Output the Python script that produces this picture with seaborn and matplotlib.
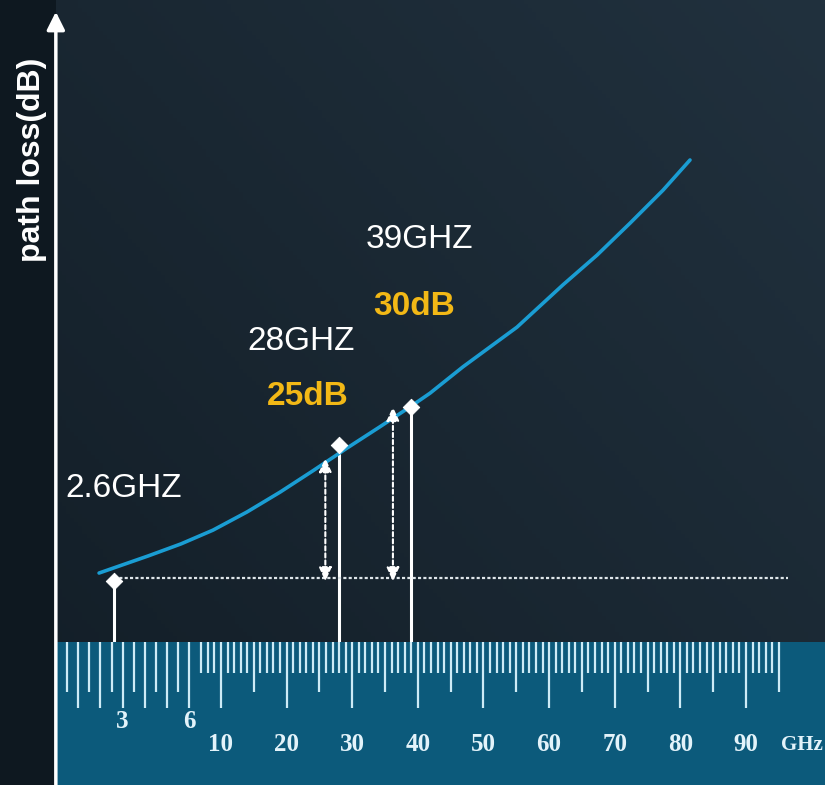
import numpy as np
import pandas as pd
import matplotlib
matplotlib.use("Agg")
import matplotlib.pyplot as plt
from matplotlib.patches import Rectangle
import seaborn as sns

# ---------------- data ----------------
curve_ghz = [1.94, 4.14, 5.62, 8.80, 13.96, 18.99, 24.02, 29.05, 34.23, 38.80,
             41.85, 46.88, 55.10, 62.11, 67.30, 72.32, 77.35, 81.47]
curve_loss_db = [60.9, 64.0, 66.2, 68.7, 72.0, 75.6, 79.5, 83.5, 87.5, 91.1,
                 93.6, 98.4, 105.6, 113.3, 118.7, 124.5, 130.5, 136.0]

band_ghz = [2.6, 28, 39]
band_loss_db = [59.4, 84.2, 91.1]
band_labels = ["2.6GHZ", "28GHZ", "39GHZ"]

gap_labels = ["25dB", "30dB"]
gap_ghz = [25.9, 36.2]
gap_top_db = [81.8, 91.1]
baseline_db = 60.0
baseline_end_ghz = 96.4

ruler_fine_ticks = list(np.arange(0.5, 6.01, 0.5))
ruler_unit_ticks = list(range(7, 96))
ruler_low_labels = [3, 6]
ruler_high_labels = [10, 20, 30, 40, 50, 60, 70, 80, 90]
unit_label = "GHz"
y_label = "path loss(dB)"

# ---------------- styling ----------------
sns.set_theme(style="dark")
plt.rcParams["font.family"] = ["Liberation Sans", "DejaVu Sans"]

W, H = 825, 785
fig = plt.figure(figsize=(W / 100, H / 100), dpi=100)

# background gradient
bg = fig.add_axes([0, 0, 1, 1], zorder=0)
gx, gy = np.meshgrid(np.linspace(0, 1, 200), np.linspace(1, 0, 200))
t = np.clip(0.55 * gx + 0.45 * gy, 0, 1)[..., None]
c_dark = np.array([18, 29, 38]) / 255
c_light = np.array([33, 49, 62]) / 255
bg.imshow(c_dark + (c_light - c_dark) * t, extent=(0, 1, 0, 1), aspect="auto", origin="upper")
bg.set_axis_off()

ax = fig.add_axes([0, 0, 1, 1], zorder=1)
ax.patch.set_alpha(0)

# piecewise frequency scale (ruler is stretched at low GHz)
G = np.array([-20, 0.5, 6, 7, 10, 90, 200])
P = np.array([67 - 20.5 * 22.3, 67, 189.5, 201, 221, 746, 746 + 110 * 6.5625])
ax.set_xscale("function", functions=(lambda v: np.interp(v, G, P),
                                     lambda p: np.interp(p, P, G)))
ax.set_xlim(-2.504, 102.04)
ax.set_ylim(22.36, 165.09)
ax.set_axis_off()

xform = ax.get_xaxis_transform()
ruler_top = 0.1822

# dark strip left of the axis
ax.add_patch(Rectangle((-2.504, 0), 2.504, 1, transform=xform, color="#0e1820", zorder=0.5, lw=0))

# ruler band
ax.add_patch(Rectangle((0, 0), 102.04, ruler_top, transform=xform, color="#0c5a7b", zorder=2, lw=0))
tick_col = "#cdebf6"
for v in ruler_fine_ticks:
    end = 0.0981 if float(v).is_integer() else 0.1185
    ax.vlines(v, end, ruler_top, transform=xform, color=tick_col, lw=1.6, zorder=3)
for v in ruler_unit_ticks:
    end = 0.0981 if v % 10 == 0 else (0.1185 if v % 5 == 0 else 0.1427)
    ax.vlines(v, end, ruler_top, transform=xform, color=tick_col, lw=1.6, zorder=3)

serif = ["Liberation Serif", "DejaVu Serif"]
for v in ruler_low_labels:
    ax.text(v, 0.0803, str(v), transform=xform, ha="center", va="center",
            color="#e3f3fa", fontsize=18, fontweight="bold", family=serif, zorder=4)
for v in ruler_high_labels:
    ax.text(v, 0.0510, str(v), transform=xform, ha="center", va="center",
            color="#e3f3fa", fontsize=18, fontweight="bold", family=serif, zorder=4)
ax.text(101.7, 0.0510, unit_label, transform=xform, ha="right", va="center",
        color="#e3f3fa", fontsize=15, fontweight="bold", family=serif, zorder=4)

# vertical axis with arrow
ax.annotate("", xy=(0, 0.985), xycoords=xform, xytext=(0, 0), textcoords=xform,
            arrowprops=dict(arrowstyle="-|>,head_length=0.9,head_width=0.45",
                            color="white", lw=2.5, shrinkA=0, shrinkB=0), zorder=5)
ax.text(0.039, 0.796, y_label, transform=ax.transAxes, rotation=90, ha="center", va="center",
        color="white", fontsize=23, fontweight="bold")

# baseline (dotted)
ax.plot([band_ghz[0], baseline_end_ghz], [baseline_db, baseline_db], color="#dfe6ea",
        lw=1.6, ls=(0, (1.4, 1.0)), zorder=3)

# solid drop lines from markers
ax.vlines(band_ghz, 22.36, band_loss_db, color="white", lw=2.2, zorder=1.5)

# path loss curve
df = pd.DataFrame({"ghz": curve_ghz, "loss": curve_loss_db})
sns.lineplot(data=df, x="ghz", y="loss", ax=ax, color="#1a9dd3", lw=2.6, zorder=4, sort=False)

# markers
dm = pd.DataFrame({"ghz": band_ghz, "loss": band_loss_db})
sns.scatterplot(data=dm, x="ghz", y="loss", ax=ax, marker="D", s=70, color="white",
                edgecolor="white", zorder=6)

# dashed double arrows
for gx_, top in zip(gap_ghz, gap_top_db):
    ax.annotate("", xy=(gx_, top), xytext=(gx_, baseline_db - 0.6),
                arrowprops=dict(arrowstyle="<|-|>,head_length=0.7,head_width=0.32",
                                color="white", lw=1.5, ls=(0, (2, 1.4)),
                                shrinkA=0, shrinkB=0), zorder=5)

# labels
ax.text(0.41, 74.7, band_labels[0], color="white", fontsize=24, ha="left", va="baseline")
ax.text(14.0, 101.45, band_labels[1], color="white", fontsize=24, ha="left", va="baseline")
ax.text(32.0, 120.0, band_labels[2], color="white", fontsize=24, ha="left", va="baseline")
ax.text(17.0, 91.45, gap_labels[0], color="#f2b816", fontsize=24, fontweight="bold",
        ha="left", va="baseline")
ax.text(33.16, 107.8, gap_labels[1], color="#f2b816", fontsize=24, fontweight="bold",
        ha="left", va="baseline")

ax.set_xlabel("")
ax.set_ylabel("")
fig.savefig("out.png", dpi=100)
